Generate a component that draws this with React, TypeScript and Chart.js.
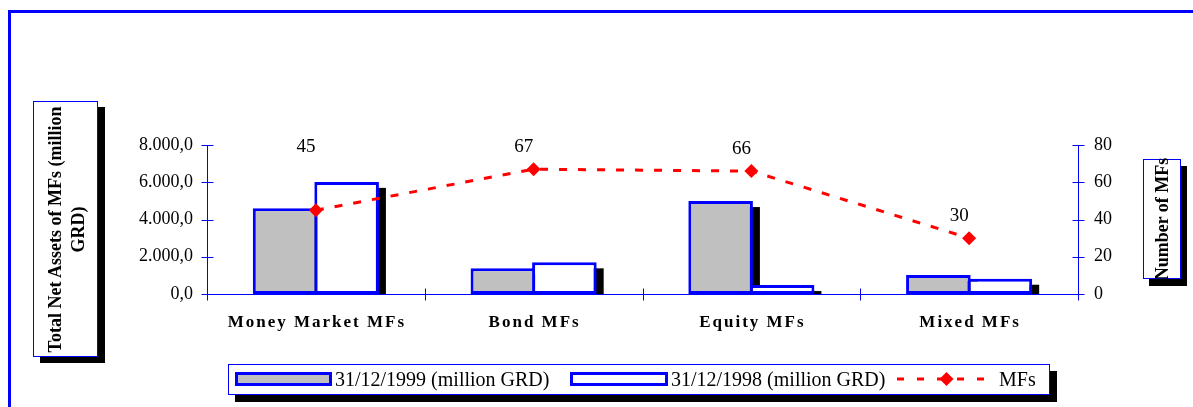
import React, { useEffect, useRef } from "react";
import { Chart, registerables } from "chart.js";

Chart.register(...registerables);

// ---------- data ----------
const categories = ["Money Market MFs", "Bond MFs", "Equity MFs", "Mixed MFs"];
const assets1999 = [4600, 1380, 4990, 1020];
const assets1998 = [6020, 1700, 480, 820];
const numberOfMFs = [45, 67, 66, 30];
const leftTicks = [0, 2000, 4000, 6000, 8000];
const rightTicks = [0, 20, 40, 60, 80];
const seriesLabels = ["31/12/1999 (million GRD)", "31/12/1998 (million GRD)", "MFs"];
const leftAxisTitle = ["Total Net Assets of MFs (million", "GRD)"];
const rightAxisTitle = "Number of MFs";

// ---------- styles ----------
const SERIF = '"Liberation Serif", "Times New Roman", Times, serif';
const BLUE = "#0000ff";
const GRAY = "#c0c0c0";
const RED = "#ff0000";
const W = 1193;
const H = 407;

function fmtThousands(v: number): string {
  const s = Math.round(v).toString().replace(/\B(?=(\d{3})+(?!\d))/g, ".");
  return s + ",0";
}

const shadowPlugin = {
  id: "barShadow",
  beforeDatasetsDraw(chart: any) {
    const ctx = chart.ctx;
    const a = chart.chartArea;
    ctx.save();
    ctx.beginPath();
    ctx.rect(a.left, a.top, a.right - a.left, a.bottom - a.top);
    ctx.clip();
    ctx.fillStyle = "#000";
    [0, 1].forEach((di) => {
      const meta = chart.getDatasetMeta(di);
      meta.data.forEach((el: any) => {
        const { x, y, base, width } = el.getProps(["x", "y", "base", "width"], true);
        const top = y + 6;
        if (base - top > 0) ctx.fillRect(x - width / 2 + 7, top, width, base - top);
      });
    });
    ctx.restore();
  },
};

const decorPlugin = {
  id: "decor",
  afterDraw(chart: any) {
    const ctx = chart.ctx;
    const xs = chart.scales.x;
    const yl = chart.scales.y;
    const yr = chart.scales.y1;
    ctx.save();
    // crossing tick marks
    ctx.strokeStyle = BLUE;
    ctx.lineWidth = 1;
    ctx.beginPath();
    const lx = Math.round(yl.right) + 0.5;
    yl.ticks.forEach((t: any) => {
      const py = Math.round(yl.getPixelForValue(t.value)) + 0.5;
      ctx.moveTo(lx - 6, py);
      ctx.lineTo(lx + 6, py);
    });
    const rx = Math.round(yr.left) + 0.5;
    yr.ticks.forEach((t: any) => {
      const py = Math.round(yr.getPixelForValue(t.value)) + 0.5;
      ctx.moveTo(rx - 6, py);
      ctx.lineTo(rx + 6, py);
    });
    const n = categories.length;
    const cw = (xs.right - xs.left) / n;
    const by = Math.round(xs.top) + 0.5;
    for (let i = 0; i <= n; i++) {
      const px = Math.round(xs.left + cw * i) + 0.5;
      ctx.moveTo(px, by - 6);
      ctx.lineTo(px, by + 6);
    }
    ctx.stroke();

    // category labels
    ctx.fillStyle = "#000";
    ctx.font = `bold 17px ${SERIF}`;
    (ctx as any).letterSpacing = "2px";
    ctx.textAlign = "center";
    ctx.textBaseline = "middle";
    categories.forEach((c, i) => {
      ctx.fillText(c, xs.getPixelForValue(i) + 1, xs.top + 29);
    });
    (ctx as any).letterSpacing = "0px";

    // data labels for number of MFs
    const lineMeta = chart.getDatasetMeta(2);
    const barMetas = [chart.getDatasetMeta(0), chart.getDatasetMeta(1)];
    ctx.font = `19px ${SERIF}`;
    lineMeta.data.forEach((pt: any, i: number) => {
      const barTop = Math.min(...barMetas.map((m: any) => m.data[i].y));
      const ly = Math.min(pt.y - 22, barTop - 35);
      ctx.fillText(String(numberOfMFs[i]), pt.x - 10, ly);
    });
    ctx.restore();
  },
};

function ChartCanvas() {
  const ref = useRef<HTMLCanvasElement | null>(null);
  useEffect(() => {
    if (!ref.current) return;
    const chart = new Chart(ref.current, {
      type: "bar",
      data: {
        labels: categories,
        datasets: [
          {
            type: "bar",
            label: seriesLabels[0],
            data: assets1999,
            backgroundColor: GRAY,
            borderColor: BLUE,
            borderWidth: 3,
            borderSkipped: false,
            yAxisID: "y",
            order: 0,
            categoryPercentage: 0.565,
            barPercentage: 1.05,
          },
          {
            type: "bar",
            label: seriesLabels[1],
            data: assets1998,
            backgroundColor: "#ffffff",
            borderColor: BLUE,
            borderWidth: 3,
            borderSkipped: false,
            yAxisID: "y",
            order: 0,
            categoryPercentage: 0.565,
            barPercentage: 1.05,
          },
          {
            type: "line",
            label: seriesLabels[2],
            data: numberOfMFs,
            borderColor: RED,
            borderWidth: 3,
            borderDash: [8, 11],
            backgroundColor: RED,
            pointStyle: "rectRot",
            pointRadius: 7,
            pointBackgroundColor: RED,
            pointBorderColor: RED,
            pointBorderWidth: 0,
            fill: false,
            tension: 0,
            yAxisID: "y1",
            order: -1,
          } as any,
        ],
      },
      options: {
        responsive: false,
        animation: false,
        devicePixelRatio: 1,
        layout: { padding: { top: 145, left: 0, right: 0, bottom: 0 } },
        plugins: {
          legend: { display: false },
          tooltip: { enabled: false },
          title: { display: false },
        },
        scales: {
          x: {
            type: "category",
            offset: true,
            grid: { display: false, drawTicks: false },
            border: { display: true, color: BLUE, width: 1 },
            ticks: { display: false },
            afterFit: (s: any) => {
              s.height = 113;
            },
          },
          y: {
            type: "linear",
            position: "left",
            min: 0,
            max: 8000,
            afterBuildTicks: (s: any) => {
              s.ticks = leftTicks.map((v) => ({ value: v }));
            },
            grid: { display: false, drawTicks: false },
            border: { display: true, color: BLUE, width: 1 },
            ticks: {
              padding: 14,
              color: "#000",
              font: { family: SERIF, size: 18 },
              callback: (v: any) => fmtThousands(Number(v)),
            },
            afterFit: (s: any) => {
              s.width = 207;
            },
          },
          y1: {
            type: "linear",
            position: "right",
            min: 0,
            max: 80,
            afterBuildTicks: (s: any) => {
              s.ticks = rightTicks.map((v) => ({ value: v }));
            },
            grid: { display: false, drawTicks: false },
            border: { display: true, color: BLUE, width: 1 },
            ticks: {
              padding: 16,
              color: "#000",
              font: { family: SERIF, size: 18 },
              callback: (v: any) => String(v),
            },
            afterFit: (s: any) => {
              s.width = 115;
            },
          },
        },
      } as any,
      plugins: [shadowPlugin, decorPlugin],
    });
    return () => chart.destroy();
  }, []);
  return (
    <canvas
      ref={ref}
      width={W}
      height={H}
      style={{ position: "absolute", left: 0, top: 0, width: W, height: H }}
    />
  );
}

export default function App() {
  return (
    <div
      style={{
        position: "absolute",
        left: 0,
        top: 0,
        width: W,
        height: H,
        overflow: "hidden",
        background: "#fff",
        fontFamily: SERIF,
        color: "#000",
      }}
    >
      {/* outer frame */}
      <div
        style={{
          position: "absolute",
          left: 8,
          top: 10,
          width: 1400,
          height: 600,
          borderTop: `3px solid ${BLUE}`,
          borderLeft: `3px solid ${BLUE}`,
        }}
      />
      <ChartCanvas />

      {/* left axis title */}
      <div
        style={{
          position: "absolute",
          left: 33,
          top: 101,
          width: 63,
          height: 254,
          border: `1px solid ${BLUE}`,
          background: "#fff",
          boxShadow: "7px 6px 0 #000",
        }}
      >
        <div
          style={{
            position: "absolute",
            width: 254,
            height: 63,
            left: (63 - 254) / 2,
            top: (254 - 63) / 2,
            transform: "rotate(-90deg)",
            display: "flex",
            flexDirection: "column",
            justifyContent: "center",
            alignItems: "center",
            fontWeight: "bold",
            fontSize: 18,
            lineHeight: "23px",
            whiteSpace: "nowrap",
          }}
        >
          {leftAxisTitle.map((t) => (
            <div key={t}>{t}</div>
          ))}
        </div>
      </div>

      {/* right axis title */}
      <div
        style={{
          position: "absolute",
          left: 1143,
          top: 159,
          width: 36,
          height: 118,
          border: `1px solid ${BLUE}`,
          background: "#fff",
          boxShadow: "6px 7px 0 #000",
        }}
      >
        <div
          style={{
            position: "absolute",
            width: 140,
            height: 36,
            left: (36 - 140) / 2,
            top: (118 - 36) / 2,
            transform: "rotate(-90deg)",
            display: "flex",
            justifyContent: "center",
            alignItems: "center",
            fontWeight: "bold",
            fontSize: 18,
            whiteSpace: "nowrap",
          }}
        >
          {rightAxisTitle}
        </div>
      </div>

      {/* legend */}
      <div
        style={{
          position: "absolute",
          left: 228,
          top: 364,
          width: 820,
          height: 29,
          border: `1px solid ${BLUE}`,
          background: "#fff",
          boxShadow: "7px 7px 0 #000",
        }}
      />
      <div
        style={{
          position: "absolute",
          left: 235,
          top: 372,
          width: 97,
          height: 14,
          boxSizing: "border-box",
          border: `3px solid ${BLUE}`,
          background: GRAY,
        }}
      />
      <div style={{ position: "absolute", left: 335, top: 368, fontSize: 20, lineHeight: "22px", whiteSpace: "nowrap" }}>
        {seriesLabels[0]}
      </div>
      <div
        style={{
          position: "absolute",
          left: 570,
          top: 372,
          width: 98,
          height: 14,
          boxSizing: "border-box",
          border: `3px solid ${BLUE}`,
          background: "#fff",
        }}
      />
      <div style={{ position: "absolute", left: 671, top: 368, fontSize: 20, lineHeight: "22px", whiteSpace: "nowrap" }}>
        {seriesLabels[1]}
      </div>
      <svg
        width={104}
        height={18}
        style={{ position: "absolute", left: 895, top: 370 }}
      >
        <line x1={2} y1={9} x2={102} y2={9} stroke={RED} strokeWidth={3} strokeDasharray="7 13" />
        <polygon points="44.5,9 51.5,2 58.5,9 51.5,16" fill={RED} />
      </svg>
      <div style={{ position: "absolute", left: 999, top: 368, fontSize: 20, lineHeight: "22px", whiteSpace: "nowrap" }}>
        {seriesLabels[2]}
      </div>
    </div>
  );
}
